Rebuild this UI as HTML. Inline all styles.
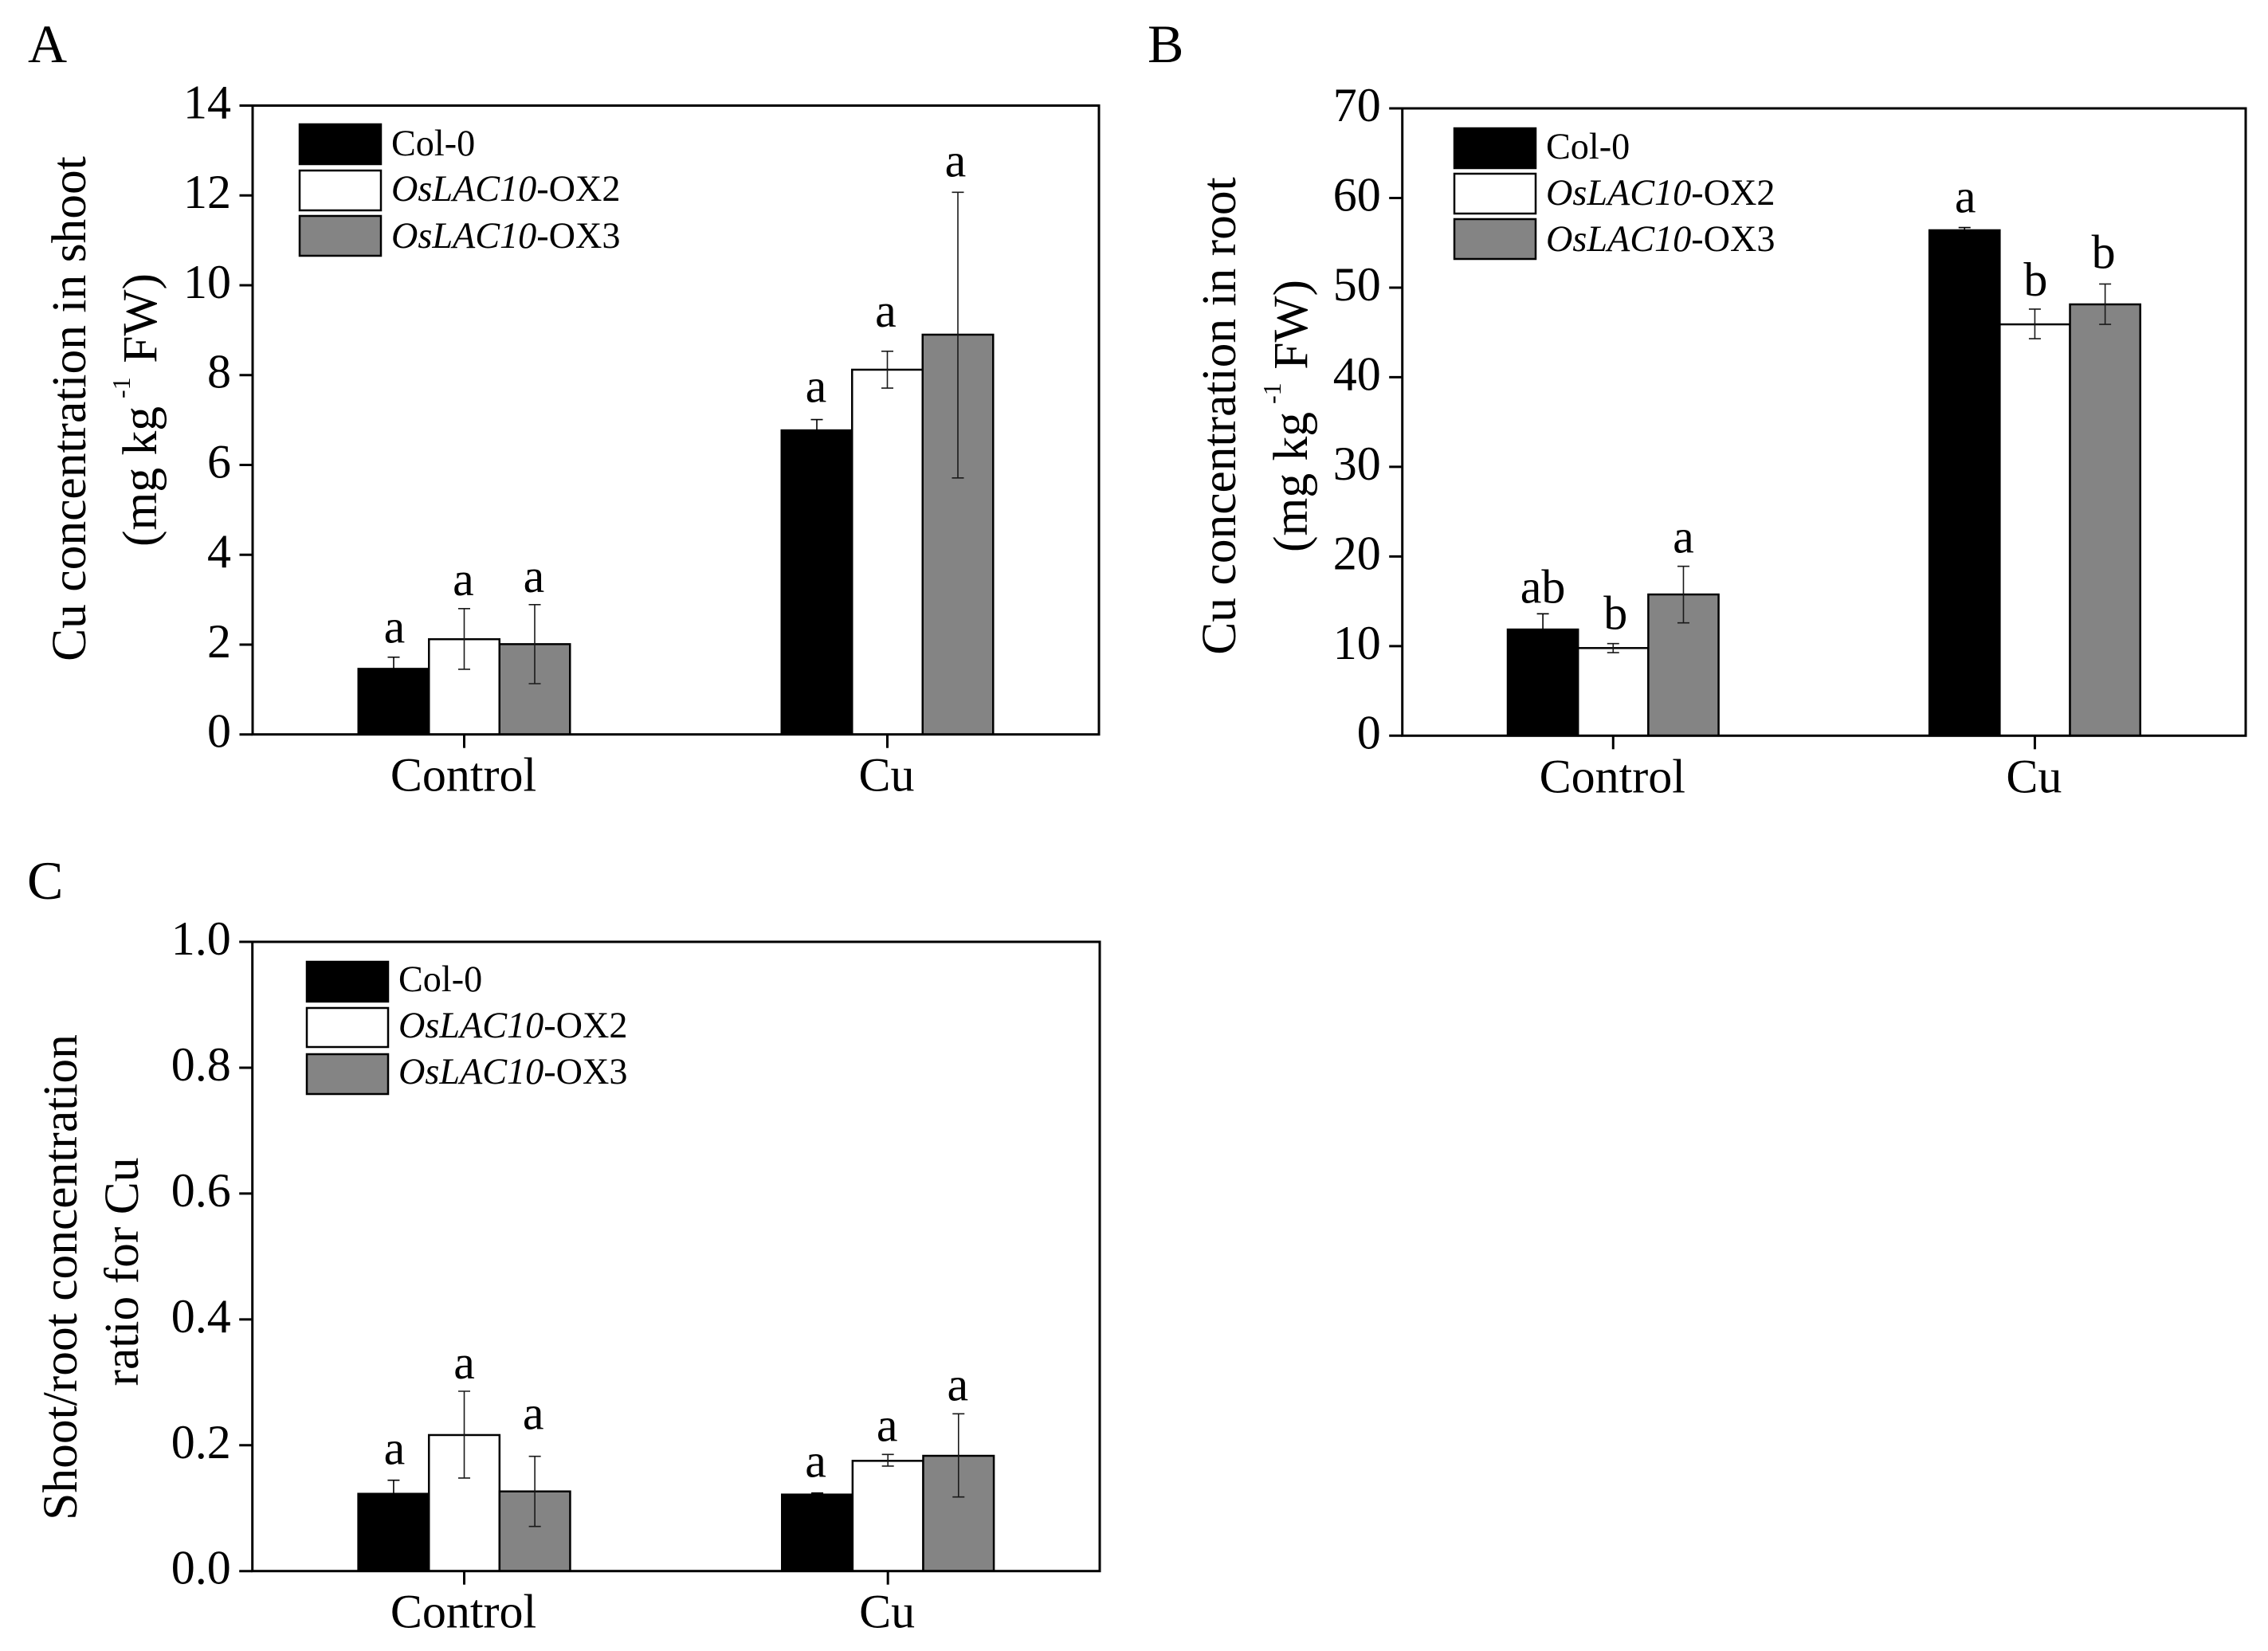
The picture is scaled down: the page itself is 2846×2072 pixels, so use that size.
<!DOCTYPE html>
<html lang="en">
<head>
<meta charset="utf-8">
<title>Cu concentration in OsLAC10 overexpression lines</title>
<style>
html,body{margin:0;padding:0;background:#fff;}
svg{display:block;}
text{font-family:"Liberation Serif","Times New Roman",serif;fill:#000;}
.legend{font-size:46.2px;}
.title{font-size:61.5px;}
.panel{font-size:68px;}
.sup{font-size:32px;}
</style>
</head>
<body>
<svg id="figure" xmlns="http://www.w3.org/2000/svg" width="2846" height="2072" viewBox="0 0 2846 2072">
<rect x="0" y="0" width="2846" height="2072" fill="#fff"/>

<text class="panel" x="35" y="78">A</text>
<text class="panel" x="1440" y="78">B</text>
<text class="panel" x="34" y="1128">C</text>

<g id="panel-a"></g>
<g id="panel-b"></g>
<g id="panel-c"></g>

<g>
  <text class="title" text-anchor="middle" transform="translate(107,513) rotate(-90)">Cu concentration in shoot</text>
  <text class="title" transform="translate(196,686) rotate(-90)">(mg kg</text>
  <text class="sup" transform="translate(163,500) rotate(-90)">-1</text>
  <text class="title" text-anchor="end" transform="translate(196,343) rotate(-90)">FW)</text>
</g>
<g>
  <text class="title" text-anchor="middle" transform="translate(1550,522) rotate(-90)">Cu concentration in root</text>
  <text class="title" transform="translate(1640,693) rotate(-90)">(mg kg</text>
  <text class="sup" transform="translate(1607,507) rotate(-90)">-1</text>
  <text class="title" text-anchor="end" transform="translate(1640,351) rotate(-90)">FW)</text>
</g>
<g>
  <text class="title" text-anchor="middle" transform="translate(96,1603) rotate(-90)">Shoot/root concentration</text>
  <text class="title" text-anchor="middle" transform="translate(173,1596) rotate(-90)">ratio for Cu</text>
</g>

<g>
  <rect x="376" y="156" width="102" height="50" fill="#000" stroke="#000" stroke-width="2.5"/>
  <rect x="376" y="214" width="102" height="50" fill="#fff" stroke="#000" stroke-width="2.5"/>
  <rect x="376" y="271" width="102" height="50" fill="#848484" stroke="#000" stroke-width="2.5"/>
  <text class="legend" x="491" y="195">Col-0</text>
  <text class="legend" x="491" y="252">
    <tspan font-style="italic">OsLAC10</tspan>-OX2</text>
  <text class="legend" x="491" y="311">
    <tspan font-style="italic">OsLAC10</tspan>-OX3</text>
</g>
<g>
  <rect x="1825" y="161" width="102" height="50" fill="#000" stroke="#000" stroke-width="2.5"/>
  <rect x="1825" y="218" width="102" height="50" fill="#fff" stroke="#000" stroke-width="2.5"/>
  <rect x="1825" y="275" width="102" height="50" fill="#848484" stroke="#000" stroke-width="2.5"/>
  <text class="legend" x="1940" y="199">Col-0</text>
  <text class="legend" x="1940" y="257">
    <tspan font-style="italic">OsLAC10</tspan>-OX2</text>
  <text class="legend" x="1940" y="315">
    <tspan font-style="italic">OsLAC10</tspan>-OX3</text>
</g>
<g>
  <rect x="385" y="1207" width="102" height="50" fill="#000" stroke="#000" stroke-width="2.5"/>
  <rect x="385" y="1265" width="102" height="49" fill="#fff" stroke="#000" stroke-width="2.5"/>
  <rect x="385" y="1323" width="102" height="50" fill="#848484" stroke="#000" stroke-width="2.5"/>
  <text class="legend" x="500" y="1244">Col-0</text>
  <text class="legend" x="500" y="1302">
    <tspan font-style="italic">OsLAC10</tspan>-OX2</text>
  <text class="legend" x="500" y="1360">
    <tspan font-style="italic">OsLAC10</tspan>-OX3</text>
</g>
</svg>

<script>
/* ---------- shared categories ---------- */
const categories = ['Control', 'Cu'];
const seriesKeys = ['col0', 'ox2', 'ox3'];
const seriesFills = ['#000000', '#ffffff', '#848484'];

/* ---------- panel A: Cu concentration in shoot ---------- */
const ticksA = [0, 2, 4, 6, 8, 10, 12, 14];
const tickLabelsA = ['0', '2', '4', '6', '8', '10', '12', '14'];
const col0A = [1.46, 6.77];
const ox2A = [2.12, 8.12];
const ox3A = [2.01, 8.90];
const col0UpperA = [1.72, 7.01];
const ox2UpperA = [2.80, 8.53];
const ox3UpperA = [2.89, 12.07];
const col0LowerA = [1.20, 6.53];
const ox2LowerA = [1.45, 7.71];
const ox3LowerA = [1.13, 5.71];
const lettersA = ['a', 'a', 'a', 'a', 'a', 'a'];

/* ---------- panel B: Cu concentration in root ---------- */
const ticksB = [0, 10, 20, 30, 40, 50, 60, 70];
const tickLabelsB = ['0', '10', '20', '30', '40', '50', '60', '70'];
const col0B = [11.85, 56.4];
const ox2B = [9.78, 45.9];
const ox3B = [15.76, 48.13];
const col0UpperB = [13.6, 56.7];
const ox2UpperB = [10.28, 47.6];
const ox3UpperB = [18.9, 50.4];
const col0LowerB = [10.1, 56.1];
const ox2LowerB = [9.27, 44.3];
const ox3LowerB = [12.59, 45.9];
const lettersB = ['ab', 'b', 'a', 'a', 'b', 'b'];

/* ---------- panel C: shoot/root ratio ---------- */
const ticksC = [0, 0.2, 0.4, 0.6, 0.8, 1.0];
const tickLabelsC = ['0.0', '0.2', '0.4', '0.6', '0.8', '1.0'];
const col0C = [0.1228, 0.1216];
const ox2C = [0.2162, 0.1752];
const ox3C = [0.1266, 0.1832];
const col0UpperC = [0.1444, 0.1241];
const ox2UpperC = [0.2858, 0.1854];
const ox3UpperC = [0.1824, 0.2500];
const col0LowerC = [0.1012, 0.1191];
const ox2LowerC = [0.1478, 0.1668];
const ox3LowerC = [0.0709, 0.1178];
const lettersC = ['a', 'a', 'a', 'a', 'a', 'a'];

const SVG_NS = 'http://www.w3.org/2000/svg';

function make(parent, tag, attrs, text) {
  const node = document.createElementNS(SVG_NS, tag);
  for (const key in attrs) node.setAttribute(key, attrs[key]);
  if (text !== undefined) node.textContent = text;
  parent.appendChild(node);
  return node;
}

function drawPanel(id, cfg) {
  const root = document.getElementById(id);
  const tag = id.replace('panel-', '');

  /* axis functions */
  const yScale = v => cfg.bottom - (v - cfg.yMin) / (cfg.yMax - cfg.yMin) * (cfg.bottom - cfg.top);
  const plotW = cfg.right - cfg.left;
  const groupCenter = g => cfg.left + (g + 0.5) * plotW / categories.length;
  const barW = plotW / 12;
  const barCenter = (g, s) => groupCenter(g) + (s - 1) * barW;

  /* bars */
  categories.forEach((cat, g) => {
    seriesKeys.forEach((key, s) => {
      const top = yScale(cfg.values[s][g]);
      const bar = make(root, 'rect', {
        x: barCenter(g, s) - barW / 2, y: top,
        width: barW, height: cfg.bottom - top,
        fill: seriesFills[s], stroke: '#000', 'stroke-width': 2.5
      });
      
      
    });
  });

  /* error bars and significance letters */
  categories.forEach((cat, g) => {
    seriesKeys.forEach((key, s) => {
      const cx = barCenter(g, s);
      const hi = yScale(cfg.upper[s][g]);
      const lo = yScale(cfg.lower[s][g]);
      const err = make(root, 'path', {
        d: `M${cx - 7.5} ${hi}H${cx + 7.5}M${cx} ${hi}V${lo}M${cx - 7.5} ${lo}H${cx + 7.5}`,
        fill: 'none', stroke: s === 0 ? '#000' : '#1a1a1a', 'stroke-width': 1.6
      });
      
      

      const letterIndex = g * seriesKeys.length + s;
      const letter = make(root, 'text', {
        x: cx + cfg.letterShifts[letterIndex], y: hi - cfg.letterGaps[letterIndex],
        'text-anchor': 'middle', 'font-size': 60
      }, cfg.letters[letterIndex]);
      
      
    });
  });

  /* plot frame */
  const frame = make(root, 'rect', {
    x: cfg.left, y: cfg.top, width: plotW, height: cfg.bottom - cfg.top,
    fill: 'none', stroke: '#000', 'stroke-width': 3
  });
  
  

  /* y ticks */
  cfg.ticks.forEach((value, i) => {
    const ty = yScale(value);
    const tick = make(root, 'line', {
      x1: cfg.left - 16.5, x2: cfg.left, y1: ty, y2: ty,
      stroke: '#000', 'stroke-width': 3
    });
    
    

    const label = make(root, 'text', {
      x: cfg.left - 27, y: ty + 16,
      'text-anchor': 'end', 'font-size': 60
    }, cfg.tickLabels[i]);
    
    
  });

  /* x ticks */
  categories.forEach((cat, g) => {
    const tx = groupCenter(g);
    const tick = make(root, 'line', {
      x1: tx, x2: tx, y1: cfg.bottom, y2: cfg.bottom + 17,
      stroke: '#000', 'stroke-width': 3
    });
    
    

    const label = make(root, 'text', {
      x: tx - 1, y: cfg.bottom + 71,
      'text-anchor': 'middle', 'font-size': 60
    }, cat);
    
    
  });
}

drawPanel('panel-a', {
  left: 317, right: 1379, top: 132.5, bottom: 921.7,
  yMin: 0, yMax: 14,
  ticks: ticksA, tickLabels: tickLabelsA,
  values: [col0A, ox2A, ox3A],
  upper: [col0UpperA, ox2UpperA, ox3UpperA],
  lower: [col0LowerA, ox2LowerA, ox3LowerA],
  letters: lettersA,
  letterGaps: [18, 17, 16, 22, 31, 20],
  letterShifts: [1, -1, -1, -1, -2, -3]
});

drawPanel('panel-b', {
  left: 1759.7, right: 2818, top: 136, bottom: 923.3,
  yMin: 0, yMax: 70,
  ticks: ticksB, tickLabels: tickLabelsB,
  values: [col0B, ox2B, ox3B],
  upper: [col0UpperB, ox2UpperB, ox3UpperB],
  lower: [col0LowerB, ox2LowerB, ox3LowerB],
  letters: lettersB,
  letterGaps: [14, 18, 17, 19, 17, 20],
  letterShifts: [0, 3, 0, 1, 1, -2]
});

drawPanel('panel-c', {
  left: 316.7, right: 1380, top: 1182, bottom: 1971.7,
  yMin: 0, yMax: 1,
  ticks: ticksC, tickLabels: tickLabelsC,
  values: [col0C, ox2C, ox3C],
  upper: [col0UpperC, ox2UpperC, ox3UpperC],
  lower: [col0LowerC, ox2LowerC, ox3LowerC],
  letters: lettersC,
  letterGaps: [20, 16, 34, 20, 17, 17],
  letterShifts: [1, 0, -2, -2, -1, -1]
});
</script>
</body>
</html>
